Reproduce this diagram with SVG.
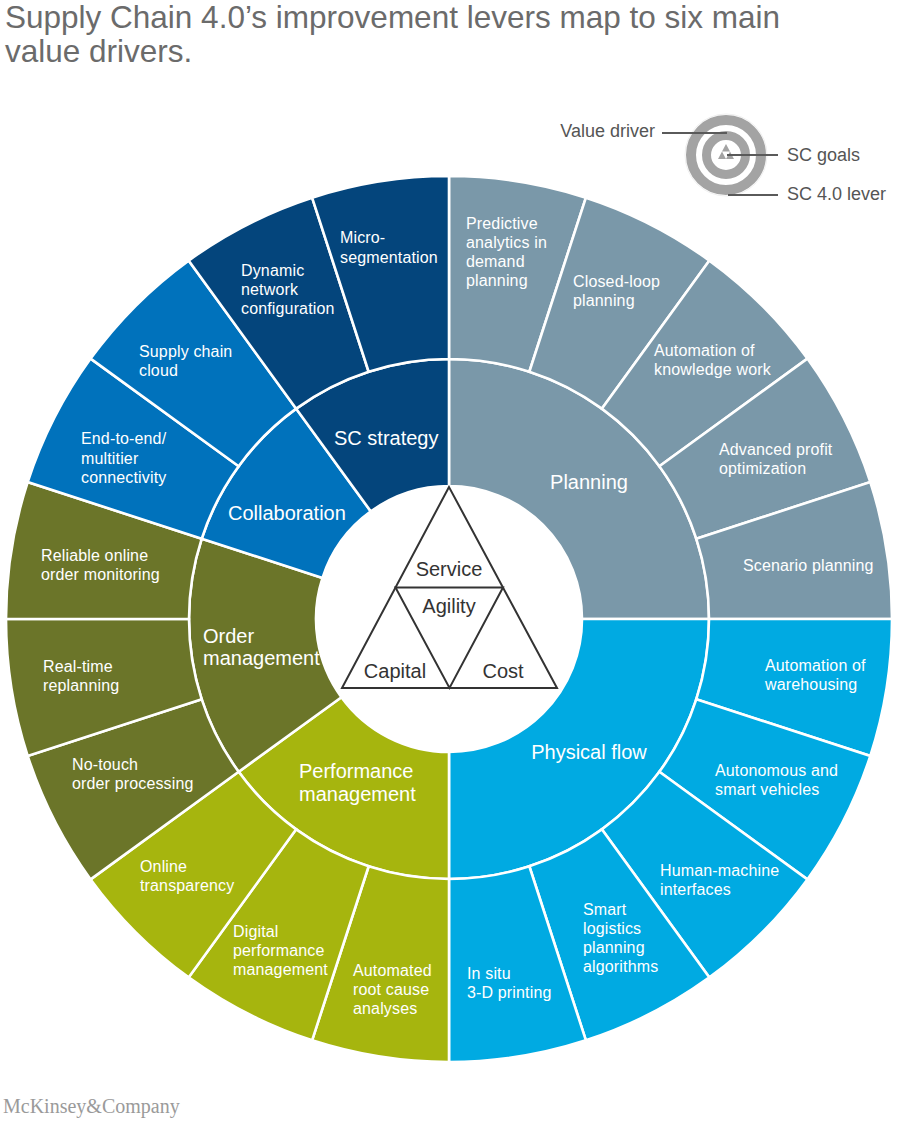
<svg xmlns="http://www.w3.org/2000/svg" width="900" height="1125" viewBox="0 0 900 1125">
<style>
text{font-family:"Liberation Sans",Arial,Helvetica,sans-serif}
.lv{font-size:16px;fill:#fff;letter-spacing:0.15px}
.dr{font-size:20px;fill:#fff}
.goal{font-size:20px;fill:#333}
.seg{stroke:#fff;stroke-width:2.6}
.pl{fill:#7a98a9}.pf{fill:#00aae2}.pm{fill:#a6b50e}.om{fill:#6b7529}.co{fill:#0072bc}.sc{fill:#04457c}
.leg{font-size:18px;fill:#555}
.lead{stroke:#5a5a5a;stroke-width:2;fill:none}
.tri{fill:none;stroke:#333;stroke-width:2;stroke-linejoin:miter}
</style>
<rect width="900" height="1125" fill="#fff"/>
<g id="title">
<text x="5" y="28" font-size="31.5" fill="#6b6b6b">Supply Chain 4.0’s improvement levers map to six main</text>
<text x="5" y="62" font-size="31.5" fill="#6b6b6b">value drivers.</text>
</g>
<g id="legend">
<circle cx="726" cy="155" r="41" fill="none" stroke="#f0f0f0" stroke-width="1"/>
<circle cx="726" cy="155" r="35" fill="none" stroke="#a3a3a3" stroke-width="10"/>
<circle cx="726" cy="155" r="19.5" fill="none" stroke="#a3a3a3" stroke-width="9"/>
<polygon points="726,144 722,151.5 730,151.5" fill="#a3a3a3"/>
<polygon points="722,151.5 718,159 726,159" fill="#a3a3a3"/>
<polygon points="730,151.5 726,159 734,159" fill="#a3a3a3"/>
<text class="leg" x="655" y="137" text-anchor="end">Value driver</text>
<text class="leg" x="787" y="161">SC goals</text>
<text class="leg" x="787" y="200">SC 4.0 lever</text>
</g>
<g id="connectors">
<line class="lead" x1="662" y1="133" x2="727" y2="133"/>
<line class="lead" x1="727" y1="155" x2="778" y2="155"/>
<line class="lead" x1="728" y1="195" x2="778" y2="195"/>
</g>
<g id="drivers">
<g id="planning"><path class="seg pl" d="M449,486 L449,359 A260,260 0 0 1 709,619 L582,619 A133,133 0 0 0 449,486Z"/><text class="dr" x="589" y="489" text-anchor="middle">Planning</text></g>
<g id="physical-flow"><path class="seg pf" d="M582,619 L709,619 A260,260 0 0 1 449,879 L449,752 A133,133 0 0 0 582,619Z"/><text class="dr" x="589" y="759" text-anchor="middle">Physical flow</text></g>
<g id="performance-management"><path class="seg pm" d="M449,752 L449,879 A260,260 0 0 1 238.66,771.82 L341.4,697.18 A133,133 0 0 0 449,752Z"/><text class="dr" x="299" y="778">Performance<tspan x="299" y="801">management</tspan></text></g>
<g id="order-management"><path class="seg om" d="M341.4,697.18 L238.66,771.82 A260,260 0 0 1 201.73,538.66 L322.51,577.9 A133,133 0 0 0 341.4,697.18Z"/><text class="dr" x="203" y="643">Order<tspan x="203" y="665">management</tspan></text></g>
<g id="collaboration"><path class="seg co" d="M322.51,577.9 L201.73,538.66 A260,260 0 0 1 296.18,408.66 L370.82,511.4 A133,133 0 0 0 322.51,577.9Z"/><text class="dr" x="228" y="520">Collaboration</text></g>
<g id="sc-strategy"><path class="seg sc" d="M370.82,511.4 L296.18,408.66 A260,260 0 0 1 449,359 L449,486 A133,133 0 0 0 370.82,511.4Z"/><text class="dr" x="334" y="445">SC strategy</text></g>
</g>
<g id="levers">
<g id="lever-predictive-analytics"><path class="seg pl" d="M449,359 L449,176 A443,443 0 0 1 585.89,197.68 L529.34,371.73 A260,260 0 0 0 449,359Z"/><text class="lv" x="466" y="229">Predictive<tspan x="466" y="248">analytics in</tspan><tspan x="466" y="267">demand</tspan><tspan x="466" y="286">planning</tspan></text></g>
<g id="lever-closed-loop"><path class="seg pl" d="M529.34,371.73 L585.89,197.68 A443,443 0 0 1 709.39,260.61 L601.82,408.66 A260,260 0 0 0 529.34,371.73Z"/><text class="lv" x="573" y="287">Closed-loop<tspan x="573" y="306">planning</tspan></text></g>
<g id="lever-knowledge-work"><path class="seg pl" d="M601.82,408.66 L709.39,260.61 A443,443 0 0 1 807.39,358.61 L659.34,466.18 A260,260 0 0 0 601.82,408.66Z"/><text class="lv" x="654" y="356">Automation of<tspan x="654" y="375">knowledge work</tspan></text></g>
<g id="lever-profit-optimization"><path class="seg pl" d="M659.34,466.18 L807.39,358.61 A443,443 0 0 1 870.32,482.11 L696.27,538.66 A260,260 0 0 0 659.34,466.18Z"/><text class="lv" x="719" y="455">Advanced profit<tspan x="719" y="474">optimization</tspan></text></g>
<g id="lever-scenario-planning"><path class="seg pl" d="M696.27,538.66 L870.32,482.11 A443,443 0 0 1 892,619 L709,619 A260,260 0 0 0 696.27,538.66Z"/><text class="lv" x="743" y="571">Scenario planning</text></g>
<g id="lever-warehousing"><path class="seg pf" d="M709,619 L892,619 A443,443 0 0 1 870.32,755.89 L696.27,699.34 A260,260 0 0 0 709,619Z"/><text class="lv" x="765" y="671">Automation of<tspan x="765" y="690">warehousing</tspan></text></g>
<g id="lever-vehicles"><path class="seg pf" d="M696.27,699.34 L870.32,755.89 A443,443 0 0 1 807.39,879.39 L659.34,771.82 A260,260 0 0 0 696.27,699.34Z"/><text class="lv" x="715" y="776">Autonomous and<tspan x="715" y="795">smart vehicles</tspan></text></g>
<g id="lever-human-machine"><path class="seg pf" d="M659.34,771.82 L807.39,879.39 A443,443 0 0 1 709.39,977.39 L601.82,829.34 A260,260 0 0 0 659.34,771.82Z"/><text class="lv" x="660" y="876">Human-machine<tspan x="660" y="895">interfaces</tspan></text></g>
<g id="lever-smart-logistics"><path class="seg pf" d="M601.82,829.34 L709.39,977.39 A443,443 0 0 1 585.89,1040.32 L529.34,866.27 A260,260 0 0 0 601.82,829.34Z"/><text class="lv" x="583" y="915">Smart<tspan x="583" y="934">logistics</tspan><tspan x="583" y="953">planning</tspan><tspan x="583" y="972">algorithms</tspan></text></g>
<g id="lever-3d-printing"><path class="seg pf" d="M529.34,866.27 L585.89,1040.32 A443,443 0 0 1 449,1062 L449,879 A260,260 0 0 0 529.34,866.27Z"/><text class="lv" x="467" y="979">In situ<tspan x="467" y="998">3-D printing</tspan></text></g>
<g id="lever-root-cause"><path class="seg pm" d="M449,879 L449,1062 A443,443 0 0 1 312.11,1040.32 L368.66,866.27 A260,260 0 0 0 449,879Z"/><text class="lv" x="353" y="976">Automated<tspan x="353" y="995">root cause</tspan><tspan x="353" y="1014">analyses</tspan></text></g>
<g id="lever-digital-performance"><path class="seg pm" d="M368.66,866.27 L312.11,1040.32 A443,443 0 0 1 188.61,977.39 L296.18,829.34 A260,260 0 0 0 368.66,866.27Z"/><text class="lv" x="233" y="937">Digital<tspan x="233" y="956">performance</tspan><tspan x="233" y="975">management</tspan></text></g>
<g id="lever-online-transparency"><path class="seg pm" d="M296.18,829.34 L188.61,977.39 A443,443 0 0 1 90.61,879.39 L238.66,771.82 A260,260 0 0 0 296.18,829.34Z"/><text class="lv" x="140" y="872">Online<tspan x="140" y="891">transparency</tspan></text></g>
<g id="lever-no-touch"><path class="seg om" d="M238.66,771.82 L90.61,879.39 A443,443 0 0 1 27.68,755.89 L201.73,699.34 A260,260 0 0 0 238.66,771.82Z"/><text class="lv" x="72" y="770">No-touch<tspan x="72" y="789">order processing</tspan></text></g>
<g id="lever-real-time"><path class="seg om" d="M201.73,699.34 L27.68,755.89 A443,443 0 0 1 6,619 L189,619 A260,260 0 0 0 201.73,699.34Z"/><text class="lv" x="43" y="672">Real-time<tspan x="43" y="691">replanning</tspan></text></g>
<g id="lever-order-monitoring"><path class="seg om" d="M189,619 L6,619 A443,443 0 0 1 27.68,482.11 L201.73,538.66 A260,260 0 0 0 189,619Z"/><text class="lv" x="41" y="561">Reliable online<tspan x="41" y="580">order monitoring</tspan></text></g>
<g id="lever-connectivity"><path class="seg co" d="M201.73,538.66 L27.68,482.11 A443,443 0 0 1 90.61,358.61 L238.66,466.18 A260,260 0 0 0 201.73,538.66Z"/><text class="lv" x="81" y="444">End-to-end/<tspan x="81" y="464">multitier</tspan><tspan x="81" y="483">connectivity</tspan></text></g>
<g id="lever-cloud"><path class="seg co" d="M238.66,466.18 L90.61,358.61 A443,443 0 0 1 188.61,260.61 L296.18,408.66 A260,260 0 0 0 238.66,466.18Z"/><text class="lv" x="139" y="357">Supply chain<tspan x="139" y="376">cloud</tspan></text></g>
<g id="lever-network"><path class="seg sc" d="M296.18,408.66 L188.61,260.61 A443,443 0 0 1 312.11,197.68 L368.66,371.73 A260,260 0 0 0 296.18,408.66Z"/><text class="lv" x="241" y="276">Dynamic<tspan x="241" y="295">network</tspan><tspan x="241" y="314">configuration</tspan></text></g>
<g id="lever-micro-segmentation"><path class="seg sc" d="M368.66,371.73 L312.11,197.68 A443,443 0 0 1 449,176 L449,359 A260,260 0 0 0 368.66,371.73Z"/><text class="lv" x="340" y="243">Micro-<tspan x="340" y="263">segmentation</tspan></text></g>
</g>
<g id="sc-goals">
<polygon class="tri" points="449,487 342,688 557,688"/>
<polygon class="tri" points="395.5,587.5 503,587.5 449.5,688"/>
<text class="goal" x="449" y="576" text-anchor="middle">Service</text>
<text class="goal" x="449" y="613" text-anchor="middle">Agility</text>
<text class="goal" x="395" y="678" text-anchor="middle">Capital</text>
<text class="goal" x="503" y="678" text-anchor="middle">Cost</text>
</g>
<g id="footer">
<text x="3" y="1113" font-family="'Liberation Serif','Times New Roman',serif" font-size="20" fill="#9a9a9a" style="font-family:'Liberation Serif','Times New Roman',serif">McKinsey&amp;Company</text>
</g>
</svg>
